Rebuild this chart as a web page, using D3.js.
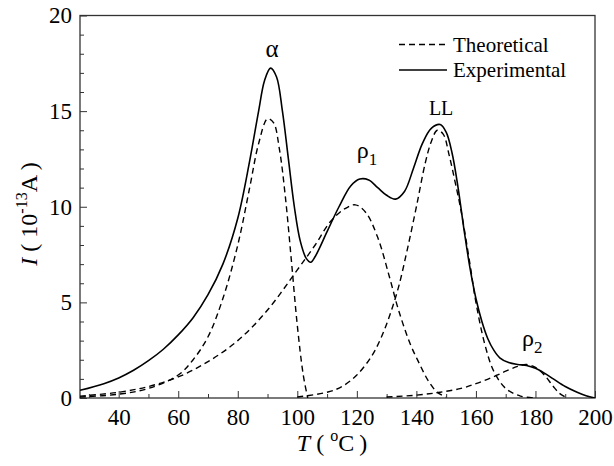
<!DOCTYPE html>
<html><head><meta charset="utf-8">
<script src="https://cdn.jsdelivr.net/npm/d3@7"></script>
<style>body{margin:0;background:#fff}svg{display:block}</style>
</head><body><svg id="c" width="614" height="466" font-family="Liberation Serif"></svg>
<script>
// Experimental curve (T in °C, I in 1e-13 A)
const expT = [27,35,40,45,50,55,60,65,70,75,80,84,87,89,91,93,95,97,99,101,103,104.5,106,110,114,118,121,124,127,130,133,136,139,142,145,148,150,152,154,156,158,160,162,164,166,168,171,174,177,180,183,186,190,194,197,200];
const expI = [0.4,0.75,1.05,1.45,1.95,2.55,3.3,4.2,5.4,7.0,9.4,12.4,15.0,16.6,17.25,16.8,15.0,12.5,10.0,8.2,7.3,7.1,7.4,8.7,10.0,11.1,11.45,11.4,11.0,10.6,10.4,10.8,12.0,13.3,14.1,14.3,13.9,12.8,11.0,8.8,6.8,5.2,4.0,3.1,2.5,2.1,1.85,1.75,1.7,1.55,1.3,1.0,0.6,0.3,0.12,0.0];
// Theoretical peaks
const alphaT = [27,40,50,60,65,70,75,80,84,87,90,92,94,96,98,100,102,103.5];
const alphaI = [0.05,0.2,0.5,1.2,2.0,3.2,5.2,8.0,11.0,13.3,14.6,14.4,13.0,10.5,7.2,3.8,1.2,0.0];
const rho1T = [27,40,50,60,70,80,90,100,106,111,116,119.5,123,127,131,134,138,141,144,147,150];
const rho1I = [0.1,0.3,0.6,1.1,1.9,3.0,4.6,6.7,8.0,9.2,9.9,10.1,9.7,8.4,6.3,4.6,2.8,1.8,0.9,0.3,0.05];
const llT = [100,110,115,120,125,128,131,134,137,140,143,145,147,149,151,153,155,158,160,163,166,170,175,180];
const llI = [0.05,0.3,0.6,1.2,2.2,3.1,4.3,5.8,7.8,10.0,12.3,13.4,14.0,13.8,12.7,11.3,9.8,7.0,5.0,2.8,1.4,0.5,0.1,0.0];
const rho2T = [130,140,148,155,160,165,170,174,177,180,183,186,188,190];
const rho2I = [0.05,0.15,0.3,0.5,0.75,1.05,1.4,1.65,1.75,1.6,1.2,0.6,0.25,0.05];
const xTicks = [40,60,80,100,120,140,160,180,200];
const yTicks = [0,5,10,15,20];
const seriesNames = ["Theoretical","Experimental"];
const peakNames = ["α","ρ","LL","ρ"];

const FF = "Liberation Serif";
const svg = d3.select("#c");
const L=80,R=595,T=15.5,B=398;
const x = d3.scaleLinear().domain([27,200]).range([L,R]);
const y = d3.scaleLinear().domain([0,20]).range([B,T]);

// frame
svg.append("rect").attr("x",L).attr("y",T).attr("width",R-L).attr("height",B-T)
  .attr("fill","none").attr("stroke","#333").attr("stroke-width",1.3);

// axes (inward ticks)
const gx = svg.append("g").attr("transform",`translate(0,${B})`)
  .call(d3.axisBottom(x).tickValues(d3.range(30,201,10)).tickSize(-7).tickFormat(""));
gx.selectAll(".tick line").attr("y2",d=>d%20===0?-7:-4);
gx.select(".domain").remove();
svg.append("g").attr("transform",`translate(0,${B})`)
  .call(d3.axisBottom(x).tickValues(xTicks).tickSize(0).tickPadding(11))
  .call(g=>g.select(".domain").remove())
  .attr("font-family",FF).attr("font-size",23)
  .selectAll("text").attr("fill","#000");
const gy = svg.append("g").attr("transform",`translate(${L},0)`)
  .call(d3.axisLeft(y).tickValues(d3.range(0,20.01,1)).tickSize(-7).tickFormat(""));
gy.selectAll(".tick line").attr("x2",d=>d%5===0?7:4);
gy.select(".domain").remove();
svg.append("g").attr("transform",`translate(${L},0)`)
  .call(d3.axisLeft(y).tickValues(yTicks).tickSize(0).tickPadding(8))
  .call(g=>g.select(".domain").remove())
  .attr("font-family",FF).attr("font-size",23)
  .selectAll("text").attr("fill","#000");
svg.selectAll(".tick line").attr("stroke","#333");

const line = d3.line().x(d=>x(d[0])).y(d=>y(d[1])).curve(d3.curveCatmullRom.alpha(0.5));
const zip=(a,b)=>a.map((v,i)=>[v,b[i]]);
svg.append("clipPath").attr("id","clp").append("rect").attr("x",L).attr("y",T).attr("width",R-L).attr("height",B-T);
const plot=svg.append("g").attr("clip-path","url(#clp)");
[[alphaT,alphaI],[rho1T,rho1I],[llT,llI],[rho2T,rho2I]].forEach(([a,b])=>{
  plot.append("path").attr("d",line(zip(a,b))).attr("fill","none").attr("stroke","#000")
    .attr("stroke-width",1.4).attr("stroke-dasharray","6,4");
});
plot.append("path").attr("d",line(zip(expT,expI))).attr("fill","none").attr("stroke","#000").attr("stroke-width",1.6);

// peak labels
svg.append("text").attr("x",x(91.5)).attr("y",y(17.85)).attr("text-anchor","middle").attr("font-size",25).text(peakNames[0]);
const r1=svg.append("text").attr("x",x(120)).attr("y",y(12.55)).attr("font-size",24);
r1.append("tspan").text(peakNames[1]);r1.append("tspan").attr("dy",7).attr("font-size",17).text("1");
svg.append("text").attr("x",x(148.3)).attr("y",y(14.8)).attr("text-anchor","middle").attr("font-size",20).text(peakNames[2]);
const r2=svg.append("text").attr("x",x(175.5)).attr("y",y(2.72)).attr("font-size",24);
r2.append("tspan").text(peakNames[3]);r2.append("tspan").attr("dy",7).attr("font-size",17).text("2");

// legend
svg.append("line").attr("x1",399).attr("x2",447).attr("y1",44.5).attr("y2",44.5).attr("stroke","#000").attr("stroke-width",1.4).attr("stroke-dasharray","6,4");
svg.append("text").attr("x",453).attr("y",51.5).attr("font-size",21).text(seriesNames[0]);
svg.append("line").attr("x1",399).attr("x2",447).attr("y1",70).attr("y2",70).attr("stroke","#000").attr("stroke-width",1.6);
svg.append("text").attr("x",453).attr("y",77).attr("font-size",21).text(seriesNames[1]);

// axis titles
const xt=svg.append("text").attr("x",332).attr("y",451).attr("text-anchor","middle").attr("font-size",24);
xt.append("tspan").attr("font-style","italic").text("T");
xt.append("tspan").attr("dx",6).text("(");
xt.append("tspan").attr("dx",6).attr("font-size",16).attr("dy",-10).text("o");
xt.append("tspan").attr("dy",10).text("C");
xt.append("tspan").attr("dx",5).text(")");
const yt=svg.append("text").attr("transform","translate(37,214) rotate(-90)").attr("text-anchor","middle").attr("font-size",24);
yt.append("tspan").attr("font-style","italic").text("I");
yt.append("tspan").text(" ( 10");
yt.append("tspan").attr("font-size",16).attr("dy",-10).text("-13");
yt.append("tspan").attr("dy",10).text("A )");
</script></body></html>
